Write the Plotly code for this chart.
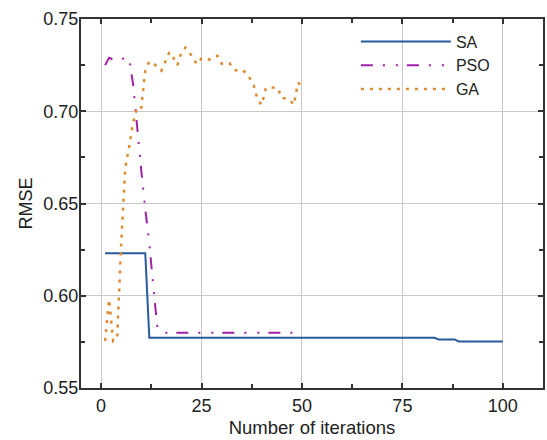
import plotly.graph_objects as go

# ---- data ----
sa_x = [1, 11, 12, 83, 84, 88, 89, 100]
sa_y = [0.623, 0.623, 0.5772, 0.5772, 0.5763, 0.5763, 0.5752, 0.5752]

pso_x = list(range(1, 51))
pso_y = [0.725, 0.729, 0.728, 0.728, 0.728, 0.729, 0.729, 0.714, 0.689, 0.668,
         0.647, 0.6285, 0.605, 0.583] + [0.580] * 36

ga_x = list(range(1, 51))
ga_y = [0.5755, 0.598, 0.5755, 0.577, 0.628, 0.669, 0.681, 0.694, 0.7025, 0.702,
        0.722, 0.727, 0.726, 0.724, 0.722, 0.727, 0.732, 0.729, 0.725, 0.732,
        0.7345, 0.732, 0.728, 0.7255, 0.7287, 0.7283, 0.728, 0.7295, 0.730, 0.7258,
        0.726, 0.726, 0.7225, 0.722, 0.7225, 0.721, 0.718, 0.714, 0.706, 0.7035,
        0.7125, 0.713, 0.7128, 0.7125, 0.707, 0.707, 0.706, 0.7035, 0.7155, 0.7135]

x_ticks = [0, 25, 50, 75, 100]
y_ticks = [0.55, 0.60, 0.65, 0.70, 0.75]
y_labels = ["0.55", "0.60", "0.65", "0.70", "0.75"]

FONT = "Liberation Sans, Arial, sans-serif"

fig = go.Figure()
fig.add_trace(go.Scatter(x=sa_x, y=sa_y, mode="lines", name="SA",
                         line=dict(color="#285a9c", width=2)))
fig.add_trace(go.Scatter(x=pso_x, y=pso_y, mode="lines", name="PSO",
                         line=dict(color="#a020a8", width=2,
                                   dash="12px,10px,2px,11px,2px,9px")))
fig.add_trace(go.Scatter(x=ga_x, y=ga_y, mode="lines", name="GA",
                         line=dict(color="#dd8a30", width=2.5, dash="3px,6px")))

axis_common = dict(
    showline=True, linecolor="#333333", linewidth=2, mirror="allticks",
    ticks="inside", ticklen=5, tickwidth=1.5, tickcolor="#333333",
    showgrid=True, gridcolor="#c8c8c8", gridwidth=1, zeroline=False,
    tickfont=dict(family=FONT, size=18, color="#222222"),
)

fig.update_xaxes(range=[-5, 110], tickvals=x_ticks,
                 minor=dict(ticks="inside", ticklen=4, dtick=12.5, tick0=0,
                            tickcolor="#333333", showgrid=False),
                 title=dict(text="Number of iterations",
                            font=dict(family=FONT, size=18.5, color="#222222"),
                            standoff=6),
                 **axis_common)
fig.update_yaxes(range=[0.55, 0.75], tickvals=y_ticks, ticktext=y_labels,
                 minor=dict(ticks="inside", ticklen=4, dtick=0.025, tick0=0.55,
                            tickcolor="#333333", showgrid=False),
                 ticklabelstandoff=-3,
                 title=dict(text="RMSE",
                            font=dict(family=FONT, size=18, color="#222222"),
                            standoff=6),
                 **axis_common)

fig.update_layout(
    width=547, height=440,
    margin=dict(l=81, r=2, t=19, b=52),
    paper_bgcolor="white", plot_bgcolor="white",
    font=dict(family=FONT, color="#222222"),
    showlegend=True,
    legend=dict(x=0.595, y=0.985, xanchor="left", yanchor="top",
                bgcolor="rgba(0,0,0,0)", borderwidth=0,
                font=dict(family=FONT, size=16, color="#222222"),
                itemwidth=90),
)

fig.write_html("out.html")
